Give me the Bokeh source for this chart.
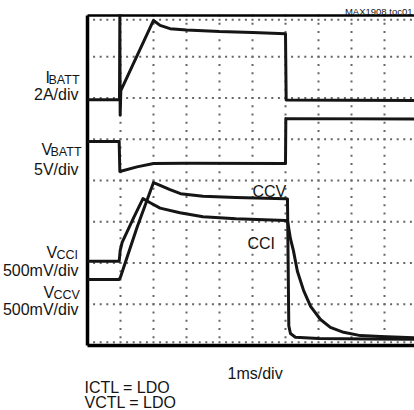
from bokeh.plotting import figure
from bokeh.models import Range1d, Label
from bokeh.embed import file_html
from bokeh.resources import INLINE

# ---- data (time in ms, amplitude in divisions) ----
ibatt_t = [0, 0.97, 0.98, 0.99, 1.01, 2.0, 2.2, 2.5, 3.0, 4.0, 5.0, 6.0, 6.02, 9.91]
ibatt_v = [5.96, 5.96, 8.0, 5.58, 6.18, 7.88, 7.76, 7.68, 7.65, 7.61, 7.59, 7.56, 5.95, 5.94]

vbatt_t = [0, 0.96, 0.98, 1.5, 2.0, 3.0, 6.0, 6.01, 9.91]
vbatt_v = [4.945, 4.945, 4.22, 4.33, 4.41, 4.42, 4.41, 5.50, 5.49]

cci_t = [0, 0.96, 0.99, 1.05, 1.4, 1.68, 1.9, 2.2, 2.8, 3.5, 4.5, 6.0,
         6.06, 6.15, 6.24, 6.36, 6.55, 6.76, 7.06, 7.36, 7.76, 8.27, 8.88, 9.91]
cci_v = [2.04, 2.04, 2.3, 2.5, 3.1, 3.56, 3.46, 3.33, 3.22, 3.12, 3.07, 3.03,
         3.03, 2.59, 2.30, 1.80, 1.33, 0.95, 0.63, 0.44, 0.32, 0.24, 0.22, 0.19]

ccv_t = [0, 0.96, 1.0, 1.5, 2.0, 2.2, 2.5, 2.82, 3.5, 4.5, 6.0,
         6.06, 6.1, 6.15, 6.3, 7.0, 8.5, 9.91]
ccv_v = [1.6, 1.6, 1.66, 2.86, 3.95, 3.88, 3.78, 3.68, 3.62, 3.59, 3.56,
         3.55, 0.48, 0.29, 0.2, 0.17, 0.16, 0.15]

x_divs = [1, 2, 3, 4, 5, 6, 7, 8, 9]
y_divs = [1, 2, 3, 4, 5, 6, 7]
n_x_minor = 50   # minor ticks (1/5 div) across the visible width
n_y_minor = 41   # minor ticks (1/5 div) across the height

FONT = "Liberation Sans Narrow, Arial Narrow, Liberation Sans"
INK = "#151515"
GRID = "#666666"

# canvas pixel -> data (1 div = 33 px horizontally, 41.25 px vertically)
X0, Y0, DX, DY = 87, 345, 33, 41.25


def fx(px):
    return (px - X0) / DX


def fy(py):
    return (Y0 - py) / DY


p = figure(width=414, height=410, x_range=Range1d(fx(0), fx(414)), y_range=Range1d(fy(410), fy(0)),
           output_backend="svg", toolbar_location=None,
           x_axis_location=None, y_axis_location=None,
           min_border_left=0, min_border_right=0, min_border_top=0, min_border_bottom=0)
p.outline_line_color = None
p.grid.visible = False
p.background_fill_color = "white"
p.border_fill_color = "white"

# graticule made of dots at every minor division
gx, gy = [], []
for xv in x_divs:
    for k in range(n_y_minor):
        gx.append(xv)
        gy.append(k * 0.2)
for yv in y_divs + [0.08, 7.9]:
    for k in range(n_x_minor):
        gx.append(k * 0.2)
        gy.append(yv)
p.scatter(gx, gy, marker="square", size=2, fill_color=GRID, line_color=None)

# frame borders (left, bottom, top)
xr_end = fx(414)
p.segment(x0=[0, 0, 0], y0=[0, 0, 8], x1=[0, xr_end, xr_end], y1=[8, 0, 8],
          line_color="black", line_width=[3.5, 3.5, 2.5])

# traces
for t, v in [(ibatt_t, ibatt_v), (vbatt_t, vbatt_v), (cci_t, cci_v), (ccv_t, ccv_v)]:
    p.line(t, v, line_color=INK, line_width=3, line_join="round")


def lab(text, px, py, size="16px", align="left"):
    p.add_layout(Label(x=fx(px), y=fy(py), text=text, text_font=FONT, text_font_size=size,
                       text_color=INK, text_align=align, text_baseline="alphabetic"))


# channel labels (main letter + subscript)
lab("I", 45, 77)
lab("BATT", 48, 79, "12.5px")
lab("2A/div", 78, 94, align="right")
lab("V", 41, 149)
lab("BATT", 50, 151, "12.5px")
lab("5V/div", 78, 169, align="right")
lab("V", 46, 252)
lab("CCI", 56, 254, "12.5px")
lab("500mV/div", 78, 270, align="right")
lab("V", 43, 292)
lab("CCV", 53, 294, "12.5px")
lab("500mV/div", 78, 309, align="right")

lab("CCV", 252, 191)
lab("CCI", 247, 243)
lab("1ms/div", 227, 373)
lab("ICTL = LDO", 84, 387)
lab("VCTL = LDO", 84, 402)
lab("MAX1908 toc01", 412, 11, "9.5px", align="right")

open("out.html", "w").write(file_html(p, INLINE))
